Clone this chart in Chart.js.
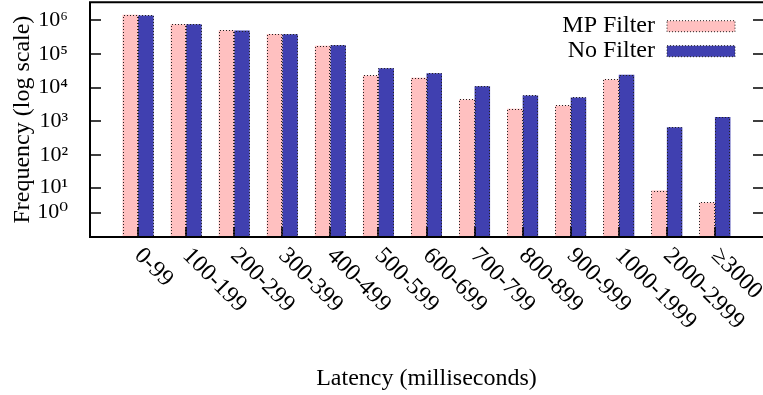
<!DOCTYPE html>
<html>
<head>
<meta charset="utf-8">
<script src="https://cdn.jsdelivr.net/npm/chart.js@4.4.1/dist/chart.umd.min.js"></script>
<style>
  html, body { margin: 0; padding: 0; background: #fff; }
  #wrap { width: 763px; height: 395px; }
</style>
</head>
<body>
<div id="wrap"><canvas id="latencyChart"></canvas></div>
<script>
// Latency buckets and request counts
const categories = ['0-99', '100-199', '200-299', '300-399', '400-499', '500-599', '600-699',
                    '700-799', '800-899', '900-999', '1000-1999', '2000-2999', '\u22653000'];
const mpFilter = [1440000, 760000, 506000, 393000, 174000, 23100, 19600, 4500, 2370, 2990, 17600, 8, 3];
const noFilter = [1380000, 760000, 495000, 385000, 182000, 38000, 27000, 11100, 5910, 5160, 24100, 668, 1349];
const yTickExps = [0, 1, 2, 3, 4, 5, 6];
const yRangeExps = [-0.422, 6.533];

const superDigits = ['\u2070', '\u00b9', '\u00b2', '\u00b3', '\u2074', '\u2075', '\u2076', '\u2077', '\u2078', '\u2079'];
const serif = '"Liberation Serif", "DejaVu Serif", serif';

Chart.defaults.font.family = serif;
Chart.defaults.color = '#000';

// the original axis is log(count + 1), bars sit at 1..n with one empty slot each side
function toPoints(values) {
    return values.map((v, i) => ({ x: i + 1, y: v + 1 }));
}

const gnuplotLook = {
    id: 'gnuplotLook',
    afterLayout(chart) {
        // legend lives inside the plot, top right
        const lg = chart.legend;
        const area = chart.chartArea;
        if (!lg) return;
        const w = lg.width;
        lg.right = area.right - 27;
        lg.left = lg.right - w;
        lg.top = area.top + 11;
        lg.bottom = area.bottom;
        lg.height = lg.bottom - lg.top;
    },
    afterDatasetsDraw(chart) {
        const ctx = chart.ctx;
        ctx.save();
        ctx.lineWidth = 1;
        ctx.strokeStyle = '#222';
        ctx.setLineDash([1, 2]);
        chart.data.datasets.forEach((ds, di) => {
            chart.getDatasetMeta(di).data.forEach(bar => {
                const p = bar.getProps(['x', 'y', 'base', 'width'], true);
                const l = Math.round(p.x - p.width / 2) + 0.5;
                const r = Math.round(p.x + p.width / 2) - 0.5;
                const t = Math.round(p.y) + 0.5;
                ctx.beginPath();
                ctx.moveTo(l, p.base);
                ctx.lineTo(l, t);
                ctx.lineTo(r, t);
                ctx.lineTo(r, p.base);
                ctx.stroke();
            });
        });
        ctx.restore();
    },
    afterDraw(chart) {
        const ctx = chart.ctx;
        const area = chart.chartArea;
        const xs = chart.scales.x;
        const ys = chart.scales.y;
        ctx.save();
        ctx.strokeStyle = '#000';
        ctx.lineWidth = 1.5;
        ctx.beginPath();
        ys.ticks.forEach(t => {
            const py = Math.round(ys.getPixelForValue(t.value));
            ctx.moveTo(area.left, py);
            ctx.lineTo(area.left + 11, py);
            ctx.moveTo(area.right - 10, py);
            ctx.lineTo(area.right, py);
        });
        xs.ticks.forEach(t => {
            const px = Math.round(xs.getPixelForValue(t.value));
            ctx.moveTo(px, area.bottom);
            ctx.lineTo(px, area.bottom - 10);
        });
        ctx.stroke();

        // frame, right side falls off the canvas
        ctx.lineWidth = 2;
        ctx.beginPath();
        ctx.moveTo(area.right, area.top);
        ctx.lineTo(area.left, area.top);
        ctx.lineTo(area.left, area.bottom);
        ctx.lineTo(area.right, area.bottom);
        ctx.stroke();

        // x labels turned clockwise, starting under each bar pair
        ctx.font = '24px ' + serif;
        ctx.fillStyle = '#000';
        ctx.textAlign = 'left';
        ctx.textBaseline = 'middle';
        xs.ticks.forEach(t => {
            const px = xs.getPixelForValue(t.value);
            ctx.save();
            ctx.translate(px, area.bottom + 15);
            ctx.rotate(Math.PI / 4);
            ctx.fillText(t.label, 0, 0);
            ctx.restore();
        });
        ctx.restore();
    }
};

new Chart(document.getElementById('latencyChart'), {
    type: 'bar',
    data: {
        datasets: [
            {
                label: 'MP Filter',
                data: toPoints(mpFilter),
                backgroundColor: '#ffc0c0',
                borderWidth: 0,
                categoryPercentage: 0.645,
                barPercentage: 1
            },
            {
                label: 'No Filter',
                data: toPoints(noFilter),
                backgroundColor: '#4040b0',
                borderWidth: 0,
                categoryPercentage: 0.645,
                barPercentage: 1
            }
        ]
    },
    options: {
        responsive: true,
        maintainAspectRatio: false,
        animation: false,
        events: [],
        layout: { padding: { top: 2, right: 0, bottom: 0, left: 0 } },
        scales: {
            x: {
                type: 'linear',
                offset: false,
                min: 0,
                max: categories.length + 1,
                afterBuildTicks: s => { s.ticks = categories.map((c, i) => ({ value: i + 1 })); },
                afterFit: s => { s.height = 158; },
                grid: { display: false, drawTicks: false, offset: false },
                border: { display: false },
                ticks: { display: false, callback: (v, i) => categories[i] },
                title: {
                    display: true,
                    text: 'Latency (milliseconds)',
                    font: { size: 24 },
                    padding: { top: 0, bottom: 2 }
                }
            },
            y: {
                type: 'logarithmic',
                min: Math.pow(10, yRangeExps[0]),
                max: Math.pow(10, yRangeExps[1]),
                bounds: 'data',
                afterBuildTicks: s => { s.ticks = yTickExps.map(e => ({ value: Math.pow(10, e) + 1 })); },
                afterFit: s => { s.width = 90; },
                // invisible tick marks only push the labels away from the frame
                grid: { display: true, drawOnChartArea: false, drawTicks: true, tickLength: 22, tickColor: 'rgba(0,0,0,0)' },
                border: { display: false },
                ticks: {
                    autoSkip: false,
                    padding: 0,
                    // tiny line height so the top label does not push the plot down
                    font: { size: 22, lineHeight: 0.2 },
                    callback: (v, i) => '10' + superDigits[yTickExps[i]]
                },
                title: {
                    display: true,
                    text: 'Frequency (log scale)',
                    font: { size: 24 },
                    padding: { top: 8, bottom: 0 }
                }
            }
        },
        plugins: {
            tooltip: { enabled: false },
            legend: {
                position: 'chartArea',
                align: 'start',
                rtl: true,
                labels: {
                    font: { size: 24 },
                    boxWidth: 68,
                    boxHeight: 11,
                    padding: 1,
                    generateLabels(chart) {
                        const items = Chart.defaults.plugins.legend.labels.generateLabels(chart);
                        items.forEach(it => {
                            it.lineWidth = 1;
                            it.strokeStyle = '#222';
                            it.lineDash = [1, 2];
                        });
                        return items;
                    }
                }
            }
        }
    },
    plugins: [gnuplotLook]
});
</script>
</body>
</html>
